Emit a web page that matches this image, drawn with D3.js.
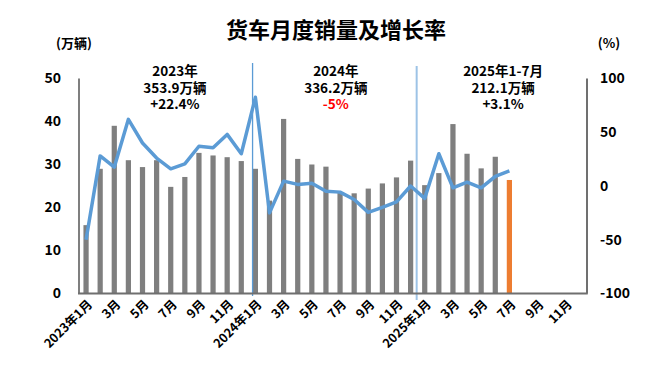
<!DOCTYPE html>
<html><head><meta charset="utf-8">
<script src="https://cdn.jsdelivr.net/npm/d3@7"></script>
<style>
html,body{margin:0;padding:0;background:#fff;}
svg{display:block;font-family:"Noto Sans CJK SC","Noto Sans",sans-serif;}
</style></head>
<body><svg id="c" width="653" height="365"></svg>
<script>
// ---- data ----
const categories = [
 "2023年1月","2023年2月","2023年3月","2023年4月","2023年5月","2023年6月","2023年7月","2023年8月","2023年9月","2023年10月","2023年11月","2023年12月",
 "2024年1月","2024年2月","2024年3月","2024年4月","2024年5月","2024年6月","2024年7月","2024年8月","2024年9月","2024年10月","2024年11月","2024年12月",
 "2025年1月","2025年2月","2025年3月","2025年4月","2025年5月","2025年6月","2025年7月","2025年8月","2025年9月","2025年10月","2025年11月","2025年12月"];
const tickLabels = ["2023年1月","3月","5月","7月","9月","11月","2024年1月","3月","5月","7月","9月","11月","2025年1月","3月","5月","7月","9月","11月"];
const sales = [15.9,29.0,39.0,31.0,29.4,31.0,24.8,27.1,32.7,32.1,31.7,30.8,
               29.0,21.6,40.6,31.3,30.0,29.5,23.6,23.3,24.4,25.6,27.0,30.9,
               25.2,28.0,39.4,32.5,29.1,31.8,26.4];
const growth = [-50,28,17.5,62,40,26,16,20.5,37,35.5,48,30,
                82.5,-25,4.5,1.5,2.5,-4.8,-5.7,-12.6,-24.5,-19.8,-14.8,0,
                -11.5,30,-1.7,3.5,-1.7,9,14];
const leftTicks = [0,10,20,30,40,50];
const rightTicks = [-100,-50,0,50,100];
const annotationTexts = [["2023年","353.9万辆","+22.4%"],["2024年","336.2万辆","-5%"],["2025年1-7月","212.1万辆","+3.1%"]];
const annotationCenters = [6.8, 18.2, 30.05]; // in category units
const annotationColors = [["#000","#000","#000"],["#000","#000","#ff0000"],["#000","#000","#000"]];
const title = "货车月度销量及增长率";

// ---- layout ----
const svg = d3.select("#c");
const L = 79, R = 587, T = 78.5, B = 293.5;
const x = d3.scaleBand().domain(categories).range([L, R]).padding(0);
const step = x.step();
const cx = c => x(c) + step/2;
const xu = d3.scaleLinear().domain([0, categories.length]).range([L, R]);
const yL = d3.scaleLinear().domain([0,50]).range([B,T]);
const yR = d3.scaleLinear().domain([-100,100]).range([B,T]);
const barW = step*0.37;

// title
svg.append("text").attr("x",336).attr("y",38).attr("text-anchor","middle")
  .attr("font-size",22).attr("font-weight","bold").attr("fill","#000").text(title);
svg.append("text").attr("x",74).attr("y",48).attr("text-anchor","middle")
  .attr("font-size",13).attr("font-weight","bold").text("(万辆)");
svg.append("text").attr("x",609).attr("y",48).attr("text-anchor","middle")
  .attr("font-size",13).attr("font-weight","bold").text("(%)");

// bars
svg.append("g").selectAll("rect").data(sales).join("rect")
  .attr("x",(d,i)=>cx(categories[i])-barW/2)
  .attr("y",d=>yL(d))
  .attr("width",barW)
  .attr("height",d=>B-yL(d))
  .attr("fill",(d,i)=> i===sales.length-1 ? "#ed7d31" : "#7f7f7f");

// separator lines
svg.append("line").attr("x1",x("2024年1月")+step*0.3).attr("x2",x("2024年1月")+step*0.3)
  .attr("y1",63).attr("y2",296).attr("stroke","#5b9bd5").attr("stroke-width",1.3);
svg.append("line").attr("x1",x("2025年1月")-1).attr("x2",x("2025年1月")-1)
  .attr("y1",66).attr("y2",300).attr("stroke","#9dc3e6").attr("stroke-width",2);

// axes lines
svg.append("line").attr("x1",L).attr("x2",L).attr("y1",T).attr("y2",B).attr("stroke","#7f7f7f").attr("stroke-width",2);
svg.append("line").attr("x1",R).attr("x2",R).attr("y1",T).attr("y2",B).attr("stroke","#404040").attr("stroke-width",1.5);
svg.append("line").attr("x1",L-1).attr("x2",R+0.75).attr("y1",B).attr("y2",B).attr("stroke","#6f6f6f").attr("stroke-width",2);

// growth line
const line = d3.line().x((d,i)=>cx(categories[i])).y(d=>yR(d));
svg.append("path").attr("d",line(growth)).attr("fill","none")
  .attr("stroke","#5b9bd5").attr("stroke-width",3.5).attr("stroke-linejoin","round");

// left ticks
svg.append("g").selectAll("text").data(leftTicks).join("text")
  .attr("x",61).attr("y",d=>yL(d)).attr("dy","0.35em").attr("text-anchor","end")
  .attr("font-size",14).attr("font-weight","bold").text(d=>d);
// right ticks
svg.append("g").selectAll("text").data(rightTicks).join("text")
  .attr("x",600).attr("y",d=>yR(d)).attr("dy","0.35em").attr("text-anchor","start")
  .attr("font-size",14).attr("font-weight","bold").text(d=>d);

// x tick labels (every other month)
const tickCats = categories.filter((c,i)=>i%2===0);
svg.append("g").selectAll("text").data(tickCats).join("text")
  .attr("transform",(c)=>`translate(${cx(c)+4},${302}) rotate(-45)`)
  .attr("dy","0.35em").attr("text-anchor","end")
  .attr("font-size",12.5).attr("font-weight","bold")
  .text((c,i)=>tickLabels[i]);

// annotations
annotationTexts.forEach((lines,k)=>{
  lines.forEach((s,j)=>{
    svg.append("text").attr("text-anchor","middle").attr("font-size",13.5).attr("font-weight","bold")
      .attr("x",xu(annotationCenters[k])).attr("y",76+j*16.5).attr("fill",annotationColors[k][j]).text(s);
  });
});
</script></body></html>
